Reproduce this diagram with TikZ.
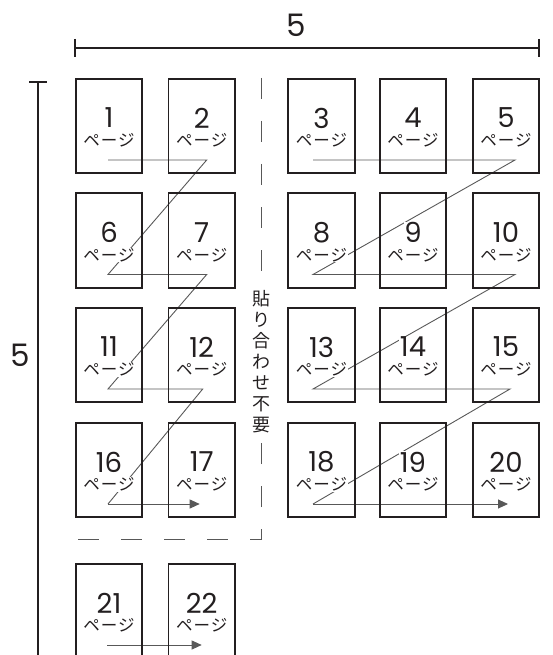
\documentclass[tikz,border=0pt]{standalone}
\usepackage{fontspec}
\setmainfont{Poppins}
\newfontfamily\jpfont{Noto Sans CJK JP}
\newfontfamily\jpwide{Noto Sans CJK JP}[LetterSpace=6]
\usetikzlibrary{arrows.meta,positioning,backgrounds}
\definecolor{ink}{RGB}{35,31,32}
\definecolor{trail}{RGB}{88,88,88}

\begin{document}
\begin{tikzpicture}[x=1pt,y=-1pt,
    page/.style={draw=ink,line width=1.8pt,minimum width=66.5pt,minimum height=94.5pt,inner sep=0pt},
    pnum/.style={font=\fontsize{27.5}{27.5}\selectfont,text=ink,fill=white,inner sep=0.5pt},
    pword/.style={font=\jpwide\fontsize{16.5}{16.5}\selectfont,text=ink,fill=white,inner sep=0.5pt},
    trail/.style={draw=trail,line width=0.9pt},
    dimline/.style={draw=ink,line width=2.5pt},
    dimlabel/.style={font=\fontsize{31}{31}\selectfont,text=ink},
    cutline/.style={draw=trail,line width=1pt,dash pattern=on 21pt off 22pt},
    paste/.style={font=\jpfont\fontsize{18}{21}\selectfont,text=ink,align=center,inner sep=4pt}]
  \useasboundingbox (0,0) rectangle (553,655);

  % pages with their numbers
  \foreach \n/\x/\y in {
    1/109/126,2/201.7/126,3/321.5/126,4/413/126,5/506/126,
    6/109/240.5,7/201.7/240.5,8/321.5/240.5,9/413/240.5,10/506/240.5,
    11/109/355,12/201.7/355,13/321.5/355,14/413/355,15/506/355,
    16/109/470,17/201.7/470,18/321.5/470,19/413/470,20/506/470,
    21/109/611,22/201.7/611}
  {
    \node[page] (p\n) at (\x,\y) {};
    \node[pnum] (n\n) at ([yshift=8pt]p\n.center) {\n};
    \node[pword] (w\n) at ([yshift=-14.5pt]p\n.center) {ページ};
  }

  % reading order
  \foreach \r/\s/\e/\dx in {1/1/2/5,2/6/7/5,3/11/12/1,4/16/17/-2}{
    \coordinate (la\r) at ([shift={(-1,34)}]p\s.center);
    \coordinate (lb\r) at ([shift={(\dx,34)}]p\e.center);
  }
  \foreach \r/\s/\e/\dx in {1/3/5/9,2/8/10/9,3/13/15/4,4/18/20/2}{
    \coordinate (ra\r) at ([shift={(-8.5,34)}]p\s.center);
    \coordinate (rb\r) at ([shift={(\dx,34)}]p\e.center);
  }
  \coordinate (ba) at ([shift={(-2,34)}]p21.center);
  \coordinate (bb) at ([shift={(0,34)}]p22.center);
  \begin{scope}[on background layer]
    \draw[trail] (la1) -- (lb1) -- (la2) -- (lb2) -- (la3) -- (lb3) -- (la4);
    \draw[trail,-{Triangle[length=10pt,width=9pt]}] (la4) -- (lb4);
    \draw[trail] (ra1) -- (rb1) -- (ra2) -- (rb2) -- (ra3) -- (rb3) -- (ra4);
    \draw[trail,-{Triangle[length=10pt,width=9pt]}] (ra4) -- (rb4);
    \draw[trail,-{Triangle[length=10pt,width=9pt]}] (ba) -- (bb);
  \end{scope}

  % no-paste zone
  \node[paste] (nopaste) at (261,362) {貼\\り\\合\\わ\\せ\\不\\要};
  \coordinate (cuttop) at (261,78);
  \coordinate (cutleft) at (78,539);
  \draw[cutline] (cuttop) -- (nopaste.north);
  \draw[cutline] (cutleft) -| (nopaste.south);

  % dimensions
  \coordinate (wl) at (75,48);
  \coordinate (wr) at (539,48);
  \draw[dimline] (wl) -- (wr);
  \draw[dimline] ([yshift=9pt]wl) -- ([yshift=-9pt]wl);
  \draw[dimline] ([yshift=9pt]wr) -- ([yshift=-9pt]wr);
  \node[dimlabel] (wtxt) at (296,25) {5};
  \coordinate (ht) at (38,82);
  \coordinate (hb) at (38,680);
  \draw[dimline] (ht) -- (hb);
  \draw[dimline] ([xshift=-9pt]ht) -- ([xshift=9pt]ht);
  \node[dimlabel] (htxt) at (20,355) {5};
\end{tikzpicture}
\end{document}
